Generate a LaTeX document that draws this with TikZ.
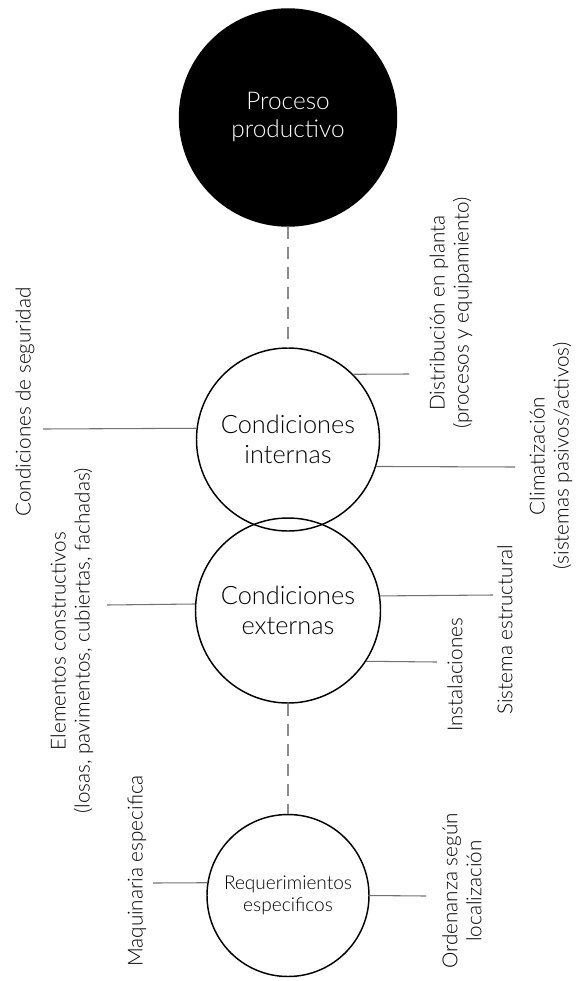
\documentclass[tikz,border=0pt]{standalone}
\usepackage{fontspec}
\setmainfont{Lato}[UprightFont={* Light}]

\begin{document}
\begin{tikzpicture}[x=0.75pt,y=-0.75pt,
    bub/.style={draw,circle,line width=1.1pt,inner sep=0pt,align=center,
      font=\fontsize{19}{22.5}\selectfont},
    lbl/.style={rotate=90,align=center,inner sep=0pt,
      font=\fontsize{15.5}{18}\selectfont},
    link/.style={draw=black!55,line width=0.8pt},
    chain/.style={draw=black!45,line width=1pt,dash pattern=on 9pt off 6pt}]
  \useasboundingbox (0,0) rectangle (576,981);

  % the four circles down the middle
  \node[bub,fill=black,text=white,minimum size=162.75pt,
    font=\fontsize{18.3}{21}\selectfont] (prod) at (288,117.5) {Proceso\\productivo};
  \node[bub,minimum size=137.25pt] (intr) at (288,439.5) {Condiciones\\internas};
  \node[bub,minimum size=138.75pt] (extr) at (288,610.5) {Condiciones\\externas};
  \node[bub,minimum size=121.5pt,font=\fontsize{14.3}{16.5}\selectfont] (req)
    at (288,895.5) {Requerimientos\\especificos};

  \draw[chain] (prod) -- (intr);
  \draw[chain] (extr) -- (req);

  % labels
  \node[lbl] (seg) at (25,402) {Condiciones de seguridad};
  \node[lbl] (elem) at (72,641) {Elementos constructivos\\(losas, pavimentos, cubiertas, fachadas)};
  \node[lbl] (maq) at (137,871) {Maquinaria especifica};
  \node[lbl] (dist) at (451,313) {Distribución en planta\\(procesos y equipamiento)};
  \node[lbl] (clim) at (551,456) {Climatización\\(sistemas pasivos/activos)};
  \node[lbl] (sist) at (505,630) {Sistema estructural};
  \node[lbl] (inst) at (455,675) {Instalaciones};
  \node[lbl] (ord) at (462,891) {Ordenanza según\\localización};

  % line ends
  \coordinate (segC) at (43,429);
  \coordinate (elemC) at (107,605);
  \coordinate (maqC) at (153,883);
  \coordinate (distC) at (409,374);
  \coordinate (climC) at (515,467);
  \coordinate (sistC) at (493,595);
  \coordinate (instC) at (437,662);
  \coordinate (ordC) at (426,896);

  \draw[link] (intr.173.4) -- (segC);
  \draw[link] (intr.45.7) -- (distC);
  \draw[link] (intr.-17.5) -- (climC);
  \draw[link] (extr.176.6) -- (elemC);
  \draw[link] (extr.9.6) -- (sistC);
  \draw[link] (extr.-33.8) -- (instC);
  \draw[link] (req.171.1) -- (maqC);
  \draw[link] (req.-0.4) -- (ordC);
\end{tikzpicture}
\end{document}
